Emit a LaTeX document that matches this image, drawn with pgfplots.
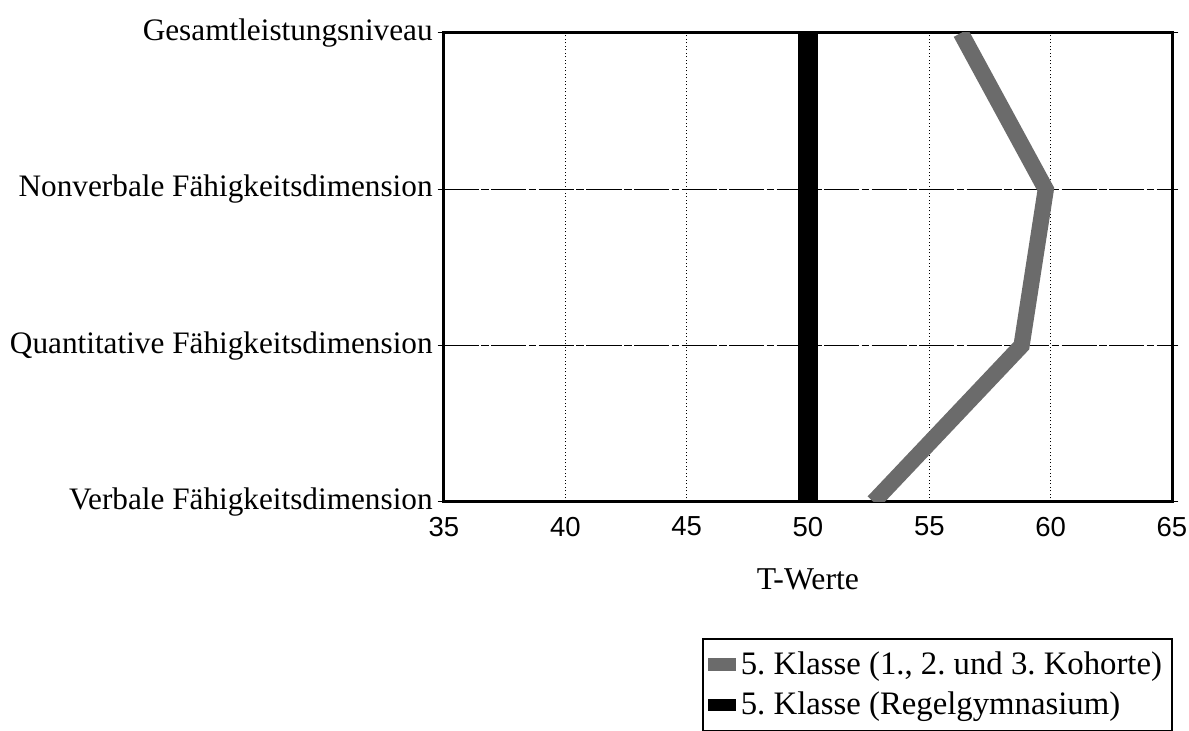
\documentclass[border=0pt]{standalone}
\usepackage{fontspec}
\setmainfont{Liberation Serif}
\newfontfamily\ticksfont{Liberation Sans}
\usepackage{pgfplots}
\pgfplotsset{compat=1.18}

\definecolor{halftone}{gray}{0.42}

\begin{document}
\frenchspacing
\begin{tikzpicture}
\begin{axis}[
    width=291.2pt, height=187.6pt,
    scale only axis,
    xmin=35, xmax=65,
    ymin=0, ymax=3,
    xtick={35,40,45,50,55,60,65},
    ytick={0,1,2,3},
    yticklabels={Verbale Fähigkeitsdimension, Quantitative Fähigkeitsdimension,
                 Nonverbale Fähigkeitsdimension, Gesamtleistungsniveau},
    xticklabel style={font=\ticksfont\fontsize{11}{11}\selectfont},
    yticklabel style={font=\fontsize{12.5}{13}\selectfont, xshift=1.5pt},
    /pgf/number format/assume math mode=true,
    xtick style={draw=none},
    ytick style={black, thin},
    tick align=outside,
    major tick length=2.5pt,
    xmajorgrids, ymajorgrids,
    x grid style={black, densely dotted, thin},
    y grid style={black, thin, dash pattern=on 14pt off 1pt on 3pt off 1pt},
    axis line style={black, line width=1.2pt},
    xlabel={T-Werte},
    xlabel style={font=\fontsize{12.7}{13}\selectfont, at={(axis description cs:0.5,0)},
                  anchor=center, yshift=-31pt},
    legend cell align=left,
    legend style={at={(axis description cs:1,0)}, anchor=north east,
                  xshift=0.4pt, yshift=-54.4pt,
                  draw=black, line width=0.8pt, inner xsep=2pt, inner ysep=3pt,
                  row sep=1.5pt,
                  font=\fontsize{13.1}{15}\selectfont},
]
\coordinate (bl) at (rel axis cs:0,0);
\coordinate (tr) at (rel axis cs:1,1);
\addplot[halftone, line width=6.5pt, line join=miter,
         legend image code/.code={\fill[halftone, draw=none] (0pt,-2.6pt) rectangle (11pt,2.6pt);}]
    coordinates {(52.7,0) (58.8,1) (59.8,2) (56.3,3)};
\addlegendentry{5. Klasse (1., 2. und 3. Kohorte)}
\addplot[black, line width=8pt,
         legend image code/.code={\fill[black, draw=none] (0pt,-2.4pt) rectangle (11pt,2.4pt);}]
    coordinates {(50,0) (50,3)};
\addlegendentry{5. Klasse (Regelgymnasium)}
\end{axis}
\pgfresetboundingbox
\path ([xshift=-177.6pt, yshift=-91.6pt]bl) rectangle ([xshift=6.8pt, yshift=13.2pt]tr);
\end{tikzpicture}
\end{document}
